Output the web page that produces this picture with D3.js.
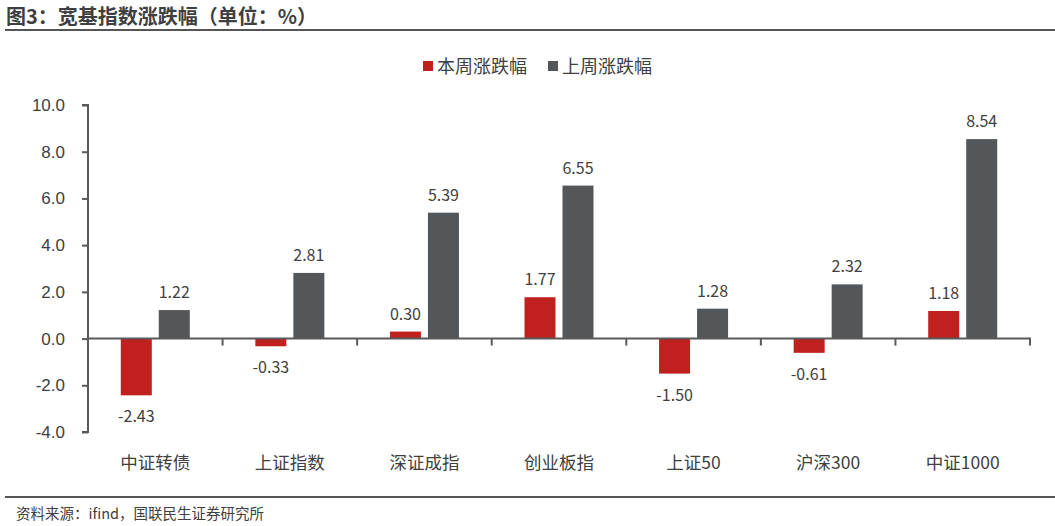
<!DOCTYPE html>
<html>
<head>
<meta charset="utf-8">
<script src="https://cdn.jsdelivr.net/npm/d3@7"></script>
<style>
  body { margin: 0; background: #fff; }
  svg { font-family: "Noto Sans CJK SC", "Noto Sans", sans-serif; }
</style>
</head>
<body>
<div id="chart"></div>
<script>
// data
var categories = ["中证转债", "上证指数", "深证成指", "创业板指", "上证50", "沪深300", "中证1000"];
var thisWeek = [-2.43, -0.33, 0.30, 1.77, -1.50, -0.61, 1.18];
var lastWeek = [1.22, 2.81, 5.39, 6.55, 1.28, 2.32, 8.54];
var seriesNames = ["本周涨跌幅", "上周涨跌幅"];
var yTicks = [-4, -2, 0, 2, 4, 6, 8, 10];

var w = 1055, h = 526;
var colors = ["#c0201e", "#53575a"];
var textColor = "#404040";

var svg = d3.select("#chart").append("svg").attr("width", w).attr("height", h);

// title + rule
svg.append("text").text("图3：宽基指数涨跌幅（单位：%）")
  .attr("x", 6).attr("y", 24)
  .attr("font-size", "20px").attr("font-weight", "bold").attr("fill", "#3f3f3f");
svg.append("line").attr("x1", 5).attr("x2", w).attr("y1", 30).attr("y2", 30)
  .attr("stroke", "#555").attr("stroke-width", 2);

// legend
var legend = svg.append("g");
var legX = [423, 548];
seriesNames.forEach(function(name, i){
  legend.append("rect").attr("x", legX[i]).attr("y", 61).attr("width", 10).attr("height", 10).attr("fill", colors[i]);
  legend.append("text").text(name).attr("x", legX[i] + 14).attr("y", 73)
    .attr("font-size", "18px").attr("fill", textColor);
});

// scales
var xScale = d3.scaleBand().domain(categories).range([88, 1030]);
var yScale = d3.scaleLinear().domain([-4, 10]).range([432, 105]);
var barW = 31, gap = 7;

// y axis
var yAxis = d3.axisLeft(yScale).tickValues(yTicks).tickSize(6).tickFormat(d3.format(".1f"));
var gy = svg.append("g").attr("transform", "translate(88,0)").call(yAxis);
gy.select(".domain").attr("stroke", "#595959").attr("stroke-width", 2).attr("d", "M-6," + yScale(10) + "H0V" + yScale(-4) + "H-6");
gy.selectAll(".tick line").attr("stroke", "#595959").attr("stroke-width", 2);
gy.selectAll(".tick text").attr("font-size", "17px").attr("fill", textColor).attr("x", -23)
  .text(function(d){ return d < 0 ? "-" + Math.abs(d).toFixed(1) : d.toFixed(1); });

// bars
var groups = [thisWeek, lastWeek];
groups.forEach(function(vals, s){
  svg.selectAll("rect.s" + s)
    .data(vals)
    .enter()
    .append("rect")
    .attr("class", "s" + s)
    .attr("x", function(d, i){ var c = xScale(categories[i]) + xScale.bandwidth()/2; return s == 0 ? c - gap/2 - barW : c + gap/2; })
    .attr("y", function(d){ return yScale(Math.max(0, d)); })
    .attr("width", barW)
    .attr("height", function(d){ return Math.abs(yScale(d) - yScale(0)); })
    .attr("fill", colors[s]);

  svg.selectAll("text.l" + s)
    .data(vals)
    .enter()
    .append("text")
    .attr("class", "l" + s)
    .text(function(d){ return d.toFixed(2); })
    .attr("x", function(d, i){ var c = xScale(categories[i]) + xScale.bandwidth()/2; return s == 0 ? c - gap/2 - barW/2 : c + gap/2 + barW/2; })
    .attr("y", function(d){ return d >= 0 ? yScale(d) - 12 : yScale(d) + 27; })
    .attr("text-anchor", "middle")
    .attr("font-size", "16px")
    .attr("fill", textColor);
});

// x axis on zero line
var xAxis = d3.axisBottom(xScale).tickSize(0).tickFormat("");
var gx = svg.append("g").attr("transform", "translate(0," + yScale(0) + ")").call(xAxis);
gx.select(".domain").attr("stroke", "#595959").attr("stroke-width", 2).attr("d", "M88,0H1030V7");
gx.selectAll(".tick").remove();
categories.forEach(function(c, i){
  if (i > 0) {
    gx.append("line").attr("x1", xScale(c)).attr("x2", xScale(c)).attr("y1", 0).attr("y2", 7)
      .attr("stroke", "#595959").attr("stroke-width", 2);
  }
});

// category labels
svg.selectAll("text.cat")
  .data(categories)
  .enter()
  .append("text")
  .attr("class", "cat")
  .text(function(d){ return d; })
  .attr("x", function(d){ return xScale(d) + xScale.bandwidth()/2; })
  .attr("y", 469)
  .attr("text-anchor", "middle")
  .attr("font-size", "17.5px")
  .attr("fill", textColor);

// footer
svg.append("line").attr("x1", 5).attr("x2", w).attr("y1", 497).attr("y2", 497)
  .attr("stroke", "#555").attr("stroke-width", 2);
svg.append("text").text("资料来源：ifind，国联民生证券研究所")
  .attr("x", 16).attr("y", 519)
  .attr("font-size", "14.5px").attr("fill", textColor);
</script>
</body>
</html>
